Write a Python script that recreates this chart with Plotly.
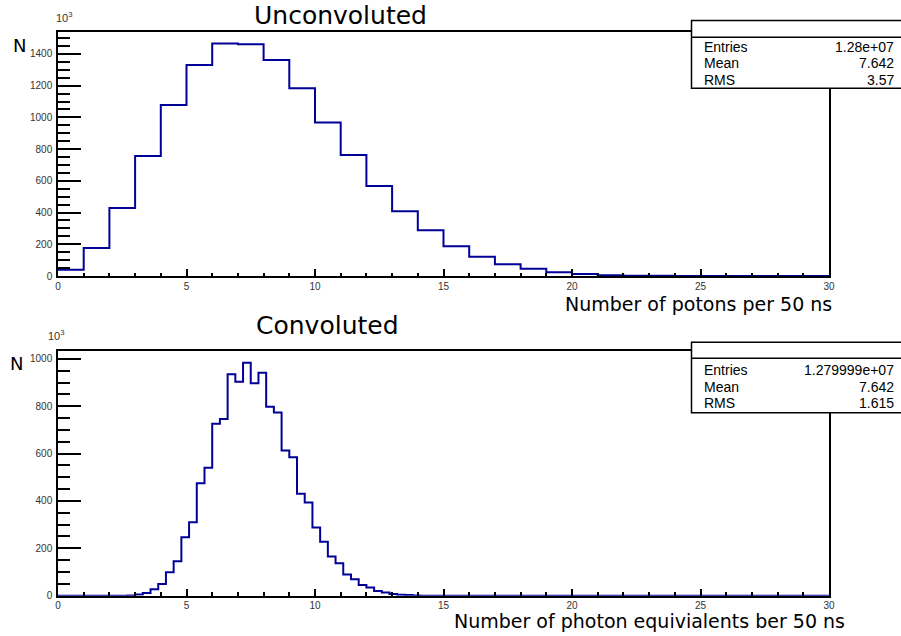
import numpy as np
import plotly.graph_objects as go

# ---------------- data ----------------
# Top histogram: 30 bins of width 1 over [0, 30], counts in units of 10^3
top_bin_width = 1.0
top_counts = [40, 177, 429, 757, 1078, 1330, 1465, 1461, 1362, 1184,
              967, 763, 567, 408, 288, 187, 122, 74, 46, 23,
              13, 4, 2, 1, 0, 0, 0, 0, 0, 0]

# Bottom histogram: 100 bins of width 0.3 over [0, 30], counts in units of 10^3
bot_bin_width = 0.3
bot_nbins = 100
bot_first_bin = 9  # bin starting at 2.7
bot_counts_nonzero = [1, 5, 11, 27, 49, 99, 145, 247, 310, 475,
                      540, 726, 746, 935, 903, 984, 897, 941, 798, 774,
                      613, 585, 430, 394, 288, 228, 165, 137, 89, 69,
                      45, 35, 20, 13, 7, 4, 3, 1]

top_title = "Unconvoluted"
bot_title = "Convoluted"
top_xlabel = "Number of potons per 50 ns"
bot_xlabel = "Number of photon equivialents ber 50 ns"
stats_labels = ["Entries", "Mean", "RMS"]
top_stats = ["1.28e+07", "7.642", "3.57"]
bot_stats = ["1.279999e+07", "7.642", "1.615"]

# ---------------- build ----------------
bot_counts = [0] * bot_nbins
for i, v in enumerate(bot_counts_nonzero):
    bot_counts[bot_first_bin + i] = v


def step_xy(counts, width):
    edges = np.arange(len(counts) + 1) * width
    ys = list(counts) + [counts[-1]]
    return edges, ys


W, H = 901, 636
def px(x):
    return x / W
def py(y):
    return 1 - y / H

LINE = "#000099"
fig = go.Figure()

tx, ty = step_xy(top_counts, top_bin_width)
fig.add_trace(go.Scatter(x=tx, y=ty, mode="lines", line=dict(color=LINE, width=2, shape="hv"),
                         xaxis="x", yaxis="y", showlegend=False, hoverinfo="skip"))
bx, by = step_xy(bot_counts, bot_bin_width)
fig.add_trace(go.Scatter(x=bx, y=by, mode="lines", line=dict(color=LINE, width=2, shape="hv"),
                         xaxis="x2", yaxis="y2", showlegend=False, hoverinfo="skip"))

tickfont = dict(family="Liberation Sans, Arial, sans-serif", size=10, color="#333333")
xdom = [px(58), px(829)]

def xaxis(anchor):
    return dict(domain=xdom, anchor=anchor, range=[0, 30], dtick=5, tick0=0,
                ticks="inside", ticklen=7, tickwidth=1.5, tickcolor="black",
                minor=dict(ticks="inside", dtick=1, ticklen=3.5, tickwidth=1.5, tickcolor="black"),
                showline=True, linecolor="black", linewidth=1.5, mirror=True,
                showgrid=False, zeroline=False, tickfont=tickfont, ticklabelstandoff=0,
                layer="above traces")

def yaxis(anchor, dom, ymax):
    return dict(domain=dom, anchor=anchor, range=[0, ymax], dtick=200, tick0=0,
                ticks="inside", ticklen=23, tickwidth=2, tickcolor="black",
                minor=dict(ticks="inside", dtick=50, ticklen=12, tickwidth=2, tickcolor="black"),
                showline=True, linecolor="black", linewidth=1.5, mirror=True,
                showgrid=False, zeroline=False, tickfont=tickfont, ticklabelstandoff=2,
                layer="above traces")

top_max = max(top_counts) * 1.05
bot_max = max(bot_counts) * 1.05

fig.update_layout(
    width=W, height=H,
    margin=dict(l=0, r=0, t=0, b=0, autoexpand=False),
    paper_bgcolor="white", plot_bgcolor="white",
    xaxis=xaxis("y"), yaxis=yaxis("x", [py(276), py(32)], top_max),
    xaxis2=xaxis("y2"), yaxis2=yaxis("x2", [py(595.7), py(351)], bot_max),
)

big = dict(family="DejaVu Sans", color="black")
ann = []
ann.append(dict(text=top_title, x=px(340), y=py(15), font=dict(size=25, **big)))
ann.append(dict(text=bot_title, x=px(327), y=py(325), font=dict(size=25, **big)))
ann.append(dict(text=top_xlabel, x=px(834), y=py(304), xanchor="right", font=dict(size=19, **big)))
ann.append(dict(text=bot_xlabel, x=px(847), y=py(621), xanchor="right", font=dict(size=19, **big)))
ann.append(dict(text="N", x=px(19), y=py(45), font=dict(size=18, **big)))
ann.append(dict(text="N", x=px(16), y=py(363), font=dict(size=18, **big)))
ann.append(dict(text="10<sup>3</sup>", x=px(54), y=py(17), xanchor="left", font=dict(size=11, family="Liberation Sans", color="#333333")))
ann.append(dict(text="10<sup>3</sup>", x=px(46), y=py(335), xanchor="left", font=dict(size=11, family="Liberation Sans", color="#333333")))

shapes = []
stat_font = dict(family="Liberation Sans, Arial, sans-serif", size=14, color="black")
for (top, sep, bottom, rows, vals) in [
    (20.5, 37.3, 88.3, [46.7, 63.3, 80.0], top_stats),
    (342.3, 358.3, 412.7, [370.0, 386.7, 402.7], bot_stats),
]:
    shapes.append(dict(type="rect", xref="paper", yref="paper", x0=px(691.5), x1=px(905),
                       y0=py(bottom), y1=py(top), fillcolor="white",
                       line=dict(color="black", width=1.5), layer="above"))
    shapes.append(dict(type="line", xref="paper", yref="paper", x0=px(691.5), x1=px(905),
                       y0=py(sep), y1=py(sep), line=dict(color="black", width=1.5), layer="above"))
    for lab, val, yy in zip(stats_labels, vals, rows):
        ann.append(dict(text=lab, x=px(702), y=py(yy), xanchor="left", font=stat_font))
        ann.append(dict(text=val, x=px(896), y=py(yy), xanchor="right", font=stat_font))

for a in ann:
    a.setdefault("xanchor", "center")
    a.update(xref="paper", yref="paper", yanchor="middle", showarrow=False)

fig.update_layout(annotations=ann, shapes=shapes)
fig.write_html("out.html")
